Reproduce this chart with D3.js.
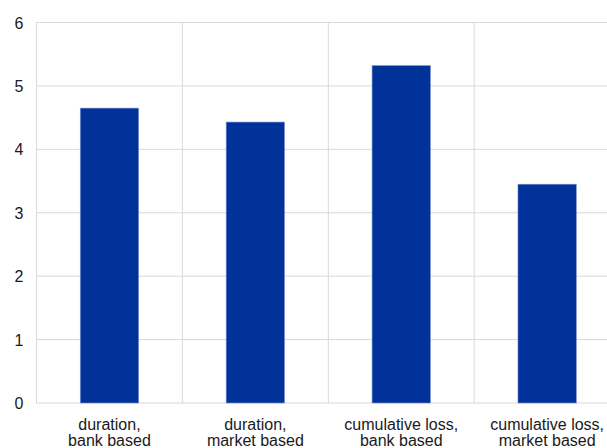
<!DOCTYPE html>
<html><head><meta charset="utf-8">
<script src="https://cdn.jsdelivr.net/npm/d3@7"></script>
<style>body{margin:0;background:#fff}svg{display:block}text{font-family:"Liberation Sans",Arial,sans-serif;fill:#1a1a1a}</style>
</head><body>
<script>
const categories = [["duration,","bank based"],["duration,","market based"],["cumulative loss,","bank based"],["cumulative loss,","market based"]];
const values = [4.65, 4.43, 5.32, 3.45];
const yTicks = [0,1,2,3,4,5,6];

const W = 607, H = 448;
const svg = d3.select("body").append("svg").attr("width", W).attr("height", H);
const x0 = 36.5, step = 145.9;
const x = d3.scaleBand().domain(d3.range(categories.length)).range([x0, x0 + step*categories.length]).padding(0);
const y = d3.scaleLinear().domain([0,6]).range([403, 22.5]);

const g = svg.append("g");
g.selectAll("line.h").data(yTicks).enter().append("line")
  .attr("x1", x0).attr("x2", W).attr("y1", d=>y(d)).attr("y2", d=>y(d))
  .attr("stroke", "#d9d9d9").attr("stroke-width", 1);
g.selectAll("line.v").data(d3.range(categories.length+1)).enter().append("line")
  .attr("x1", d=>x0+d*x.step()).attr("x2", d=>x0+d*x.step())
  .attr("y1", y(6)).attr("y2", y(0))
  .attr("stroke", "#d9d9d9").attr("stroke-width", 1);

const bw = x.bandwidth()*0.4;
g.selectAll("rect").data(values).enter().append("rect")
  .attr("x", (d,i)=>x(i)+x.bandwidth()/2-bw/2)
  .attr("width", bw)
  .attr("y", d=>y(d)).attr("height", d=>y(0)-y(d))
  .attr("fill", "#003299").attr("stroke","#7a8fcf").attr("stroke-width",0.6);

g.selectAll("text.y").data(yTicks).enter().append("text")
  .attr("x", 23.5).attr("y", d=>y(d)+6).attr("text-anchor","end")
  .attr("font-size", 16).text(d=>d);

categories.forEach((c,i)=>{
  const cx = x(i)+x.bandwidth()/2;
  const t = g.append("text").attr("text-anchor","middle").attr("font-size",16).attr("x", cx);
  c.forEach((line,j)=>{
    t.append("tspan").attr("x", cx).attr("y", 430 + j*16).text(line);
  });
});
</script>
</body></html>
